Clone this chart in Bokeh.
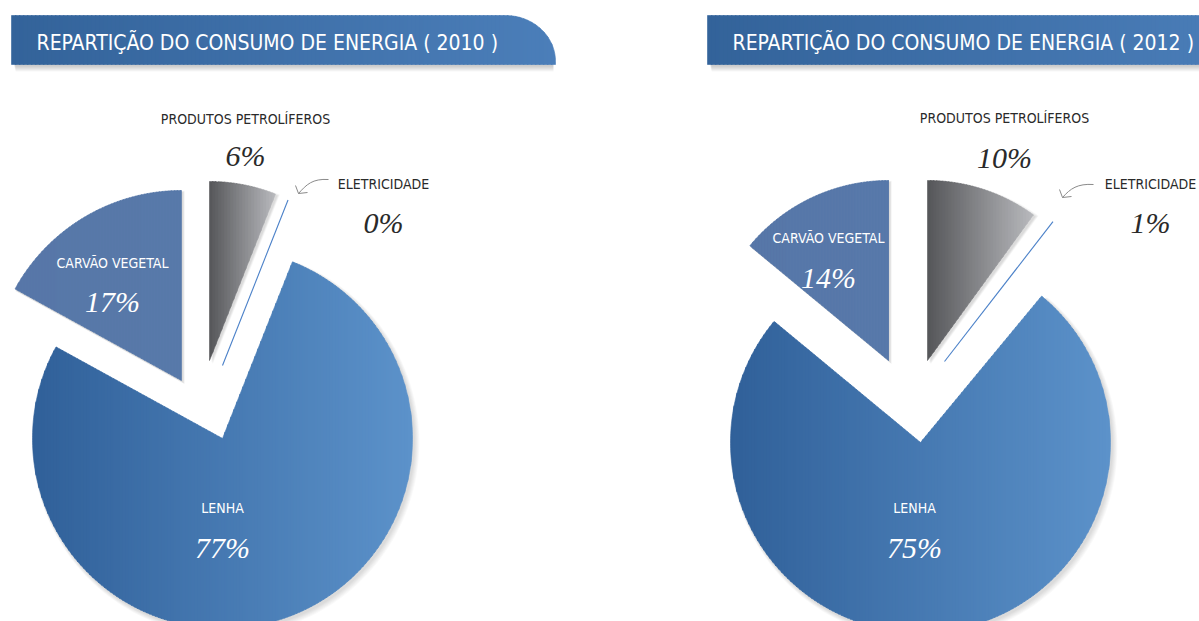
import numpy as np
from bokeh.plotting import figure
from bokeh.models import Range1d
from bokeh.core.properties import value
from bokeh.embed import file_html
from bokeh.resources import INLINE

# ---------------- data ----------------
years = ["2010", "2012"]
titles = ["REPARTIÇÃO DO CONSUMO DE ENERGIA ( 2010 )",
          "REPARTIÇÃO DO CONSUMO DE ENERGIA ( 2012 )"]
categories = ["PRODUTOS PETROLÍFEROS", "ELETRICIDADE", "LENHA", "CARVÃO VEGETAL"]
share_2010 = [6, 0, 77, 17]
share_2012 = [10, 1, 75, 14]
shares = [share_2010, share_2012]

# ---------------- layout / style ----------------
W, H = 1199, 621
PAGE_H = 621
def Y(s):  # screen y (down) -> data y (up)
    return PAGE_H - s

LABEL_FONT = "DejaVu Sans Condensed"
PCT_FONT = "Liberation Serif"

pies = [
    dict(center=(205, 400),
         offsets=[(4, -40), (17, -35), (17, 38), (-24, -20)],
         radii=[179, 178, 190, 190],
         banner=(11, 555), title_x=36,
         label_pos=[(245, 118, 155, "out"), (383, 183, 222, "out"),
                    (222, 507, 547, "in"), (112, 262, 301, "in")],
         arrow=((328, 179), (298, 193))),
    dict(center=(905, 400),
         offsets=[(22, -40), (39, -39), (15, 42), (-17, -40)],
         radii=[180, 177, 190, 180],
         banner=(707, 1251), title_x=732,
         label_pos=[(1004, 117, 157, "out"), (1150, 183, 222, "out"),
                    (914, 507, 547, "in"), (828, 237, 277, "in")],
         arrow=((1093, 184), (1062, 197))),
]

slice_style = [
    dict(kind="grad", c0=(0x55, 0x56, 0x59), c1=(0xb8, 0xb9, 0xbd)),
    dict(kind="line", color="#4a80c8"),
    dict(kind="grad", c0=(0x30, 0x60, 0x99), c1=(0x5c, 0x92, 0xca)),
    dict(kind="grad", c0=(0x57, 0x77, 0xa8), c1=(0x58, 0x79, 0xaa)),
]

p = figure(width=W, height=H, output_backend="svg", toolbar_location=None,
           x_range=Range1d(0, W), y_range=Range1d(PAGE_H - H, PAGE_H),
           min_border=0, outline_line_color=None)
p.axis.visible = False
p.grid.visible = False
p.background_fill_color = "white"
p.border_fill_color = "white"


def hexc(c):
    return "#%02x%02x%02x" % tuple(int(round(v)) for v in c)


def clip_half(xs, ys, x_lim, keep_greater):
    out_x, out_y = [], []
    n = len(xs)
    for i in range(n):
        xa, ya = xs[i - 1], ys[i - 1]
        xb, yb = xs[i], ys[i]
        ina = xa >= x_lim if keep_greater else xa <= x_lim
        inb = xb >= x_lim if keep_greater else xb <= x_lim
        if inb:
            if not ina:
                t = (x_lim - xa) / (xb - xa)
                out_x.append(x_lim); out_y.append(ya + t * (yb - ya))
            out_x.append(xb); out_y.append(yb)
        elif ina:
            t = (x_lim - xa) / (xb - xa)
            out_x.append(x_lim); out_y.append(ya + t * (yb - ya))
    return out_x, out_y


def gradient_fill(xs, ys, c0, c1, step=3.0, alpha=1.0):
    xs = list(xs); ys = list(ys)
    xmin, xmax = min(xs), max(xs)
    edges = np.arange(xmin, xmax + step, step)
    px, py, cols = [], [], []
    for a, b in zip(edges[:-1], edges[1:]):
        cx, cy = clip_half(xs, ys, a, True)
        if len(cx) < 3:
            continue
        cx, cy = clip_half(cx, cy, b + 0.6, False)
        if len(cx) < 3:
            continue
        t = ((a + b) / 2 - xmin) / max(xmax - xmin, 1)
        col = tuple(c0[k] + (c1[k] - c0[k]) * t for k in range(3))
        px.append(cx); py.append(cy); cols.append(hexc(col))
    p.patches(px, py, fill_color=cols, line_color=cols, line_width=0.6,
              fill_alpha=alpha, line_alpha=alpha)


for n_pie, (pie, vals) in enumerate(zip(pies, shares)):
    cx, cy = pie["center"]
    cum = np.concatenate([[0], np.cumsum(vals)])
    a_start = np.radians(90 - 3.6 * cum[:-1])
    a_end = np.radians(90 - 3.6 * cum[1:])
    polys = []
    for i in range(len(vals)):
        ox, oy = pie["offsets"][i]
        ax, ay = cx + ox, Y(cy + oy)
        r = pie["radii"][i]
        polys.append((ax, ay, r, a_start[i], a_end[i]))

    # soft shadows
    for i, (ax, ay, r, s0, s1) in enumerate(polys):
        if slice_style[i]["kind"] == "line":
            continue
        th = np.linspace(s0, s1, 240)
        for k in range(1, 7):
            xs = np.concatenate([[ax], ax + (r + k * 0.6) * np.cos(th)]) + 1.5 + k * 0.3
            ys = np.concatenate([[ay], ay + (r + k * 0.6) * np.sin(th)]) - 2.0 - k * 0.3
            p.patch(xs, ys, fill_color="black", fill_alpha=0.025, line_color=None)

    for i, (ax, ay, r, s0, s1) in enumerate(polys):
        st = slice_style[i]
        if st["kind"] == "line":
            mid = (s0 + s1) / 2
            p.segment(x0=[ax], y0=[ay], x1=[ax + r * np.cos(mid)], y1=[ay + r * np.sin(mid)],
                      line_color=st["color"], line_width=1.1)
            continue
        th = np.linspace(s0, s1, 360)
        xs = np.concatenate([[ax], ax + r * np.cos(th)])
        ys = np.concatenate([[ay], ay + r * np.sin(th)])
        gradient_fill(xs, ys, st["c0"], st["c1"])

    # banner
    bx0, bx1 = pie["banner"]
    top, bot, rx, ry = 15, 64, 50, 46
    for k in range(1, 8):
        p.quad(left=[bx0 + 2 + k * 0.3], right=[bx1 - 2], top=[Y(bot - 6 + k)], bottom=[Y(bot + k)],
               fill_color="black", fill_alpha=0.035, line_color=None)
    th = np.linspace(np.pi / 2, 0, 60)
    bxs = [bx0] + list(bx1 - rx + rx * np.cos(th)) + [bx1, bx0]
    bys = [Y(top)] + list(Y(top + ry) + ry * np.sin(th)) + [Y(bot), Y(bot)]
    gradient_fill(bxs, bys, (0x33, 0x63, 0x9a), (0x4b, 0x7e, 0xb9), step=4)

    p.text(x=[pie["title_x"]], y=[Y(42)], text=[titles[n_pie]],
           text_color="white", text_font=value(LABEL_FONT), text_font_size="21px",
           text_align="left", text_baseline="middle")

    # labels
    for i, (lx, ly, py_, where) in enumerate(pie["label_pos"]):
        col = "white" if where == "in" else "#2a2a2a"
        p.text(x=[lx], y=[Y(ly)], text=[categories[i]], text_color=col,
               text_font=value(LABEL_FONT), text_font_size="14px",
               text_align="center", text_baseline="middle")
        p.text(x=[lx], y=[Y(py_)], text=["%d%%" % vals[i]], text_color=col,
               text_font=value(PCT_FONT), text_font_size="30px", text_font_style="italic",
               text_align="center", text_baseline="middle")

    # arrow
    (sx, sy), (ex, ey) = pie["arrow"]
    p.bezier(x0=[sx], y0=[Y(sy)], x1=[ex], y1=[Y(ey)],
             cx0=[sx - 16], cy0=[Y(sy - 1)], cx1=[ex + 8], cy1=[Y(ey - 9)],
             line_color="#8a8a8a", line_width=1)
    p.segment(x0=[ex, ex], y0=[Y(ey), Y(ey)], x1=[ex - 3, ex + 9], y1=[Y(ey - 8), Y(ey - 1)],
              line_color="#8a8a8a", line_width=1)

open("out.html", "w").write(file_html(p, INLINE))
